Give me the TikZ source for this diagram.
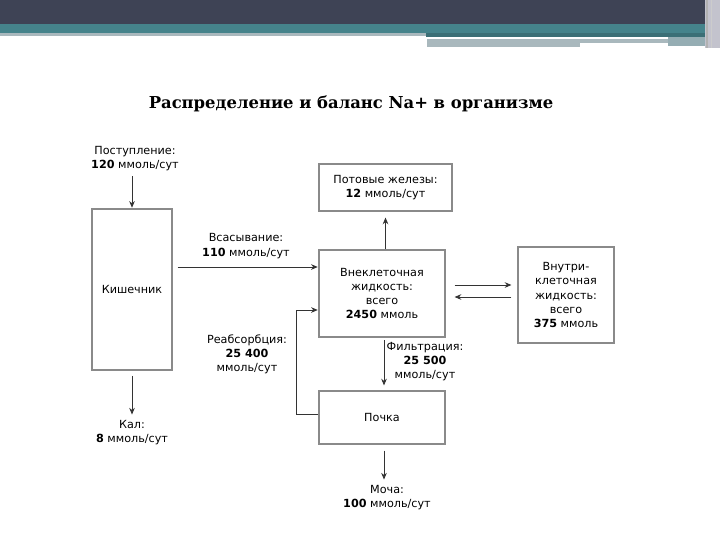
\documentclass[tikz,border=0pt]{standalone}
\usepackage{fontspec}
\setmainfont{DejaVu Sans}
\newfontfamily\titlefont{DejaVu Serif}
\usetikzlibrary{arrows.meta}
\definecolor{hdrdark}{HTML}{3E4355}
\definecolor{hdrteal}{HTML}{45838B}
\definecolor{hdrgray}{HTML}{A9B8BD}
\definecolor{hdrlight}{HTML}{C3C3CD}
\definecolor{boxline}{HTML}{8A8A8A}
\begin{document}
\begin{tikzpicture}[x=0.75pt,y=-0.75pt,
  box/.style={draw=boxline,line width=0.9pt,inner sep=0pt,align=center,font=\fontsize{8.4}{10.7}\selectfont},
  lbl/.style={align=center,inner sep=0pt,font=\fontsize{8.4}{10.7}\selectfont},
  arr/.style={draw=black!80,line width=0.6pt,-{Stealth[length=5pt,width=4.2pt]}},
  ln/.style={draw=black!65,line width=0.6pt}]
\useasboundingbox (0,0) rectangle (720,540);
\fill[white] (0,0) rectangle (720,540);
% header
\fill[hdrdark] (0,0) rectangle (705,24);
\fill[hdrteal] (0,24) rectangle (705,33);
\fill[hdrgray] (0,33) rectangle (426,36);
\fill[hdrteal!85!black] (426,33) rectangle (705,37);
\fill[hdrgray] (427,39) rectangle (668,43);
\fill[hdrgray] (427,43) rectangle (580,47);
\fill[hdrgray!80!hdrteal] (668,37) rectangle (705,46);
\fill[hdrlight] (705,0) rectangle (720,48);
\fill[gray!60] (706,0) rectangle (708,48);
\fill[gray!40] (711,0) rectangle (712,48);
% title
\node[font=\titlefont\bfseries\fontsize{12.3}{15}\selectfont] (title) at (351,104) {Распределение и баланс Na+ в организме};
% boxes
\node[box,minimum width=60pt,minimum height=120.75pt] (kish) at (132,289.5) {Кишечник};
\node[box,minimum width=99.75pt,minimum height=35.25pt] (pot) at (385.5,187.5) {Потовые железы:\\\textbf{12} ммоль/сут};
\node[box,minimum width=94.5pt,minimum height=65.25pt] (vnekl) at (382,293.5) {Внеклеточная\\жидкость:\\всего\\\textbf{2450} ммоль};
\node[box,minimum width=72pt,minimum height=72pt] (vnutr) at (566,295) {Внутри-\\клеточная\\жидкость:\\всего\\\textbf{375} ммоль};
\node[box,minimum width=94.5pt,minimum height=39.75pt] (pochka) at (382,417.5) {Почка};
% labels
\node[lbl] (post) at (135,158.5) {Поступление:\\\textbf{120} ммоль/сут};
\node[lbl] (vsas) at (246,246) {Всасывание:\\\textbf{110} ммоль/сут};
\node[lbl] (kal) at (132,432.5) {Кал:\\\textbf{8} ммоль/сут};
\node[lbl] (reab) at (247,354.5) {Реабсорбция:\\\textbf{25 400}\\ммоль/сут};
\node[lbl] (filt) at (425,361.5) {Фильтрация:\\\textbf{25 500}\\ммоль/сут};
\node[lbl] (mocha) at (387,497.5) {Моча:\\\textbf{100} ммоль/сут};
% helper coordinates
\coordinate (ya) at (0,267);
\coordinate (yb) at (0,285);
\coordinate (yc) at (0,297);
\coordinate (yr) at (0,310);
\coordinate (yk) at (0,414);
\coordinate (xr) at (296,0);
\coordinate (xf) at (384,0);
% connectors
\draw[arr,shorten <=4pt,shorten >=0.5pt] (post.south -| kish.north) -- (kish.north);
\draw[arr,shorten <=3.75pt,shorten >=0.5pt] (kish.east |- ya) -- (vnekl.west |- ya);
\draw[arr,shorten >=4.5pt] (vnekl.north -| pot.south) -- (pot.south);
\draw[arr,shorten <=6.75pt,shorten >=4.5pt] (vnekl.east |- yb) -- (vnutr.west |- yb);
\draw[arr,shorten <=4.5pt,shorten >=6.75pt] (vnutr.west |- yc) -- (vnekl.east |- yc);
\draw[arr,shorten <=4pt,shorten >=4pt] (kish.south) -- (kal.north);
\draw[arr,shorten <=2pt,shorten >=3.75pt] (vnekl.south -| xf) -- (pochka.north -| xf);
\draw[arr,shorten >=0.5pt] (pochka.west |- yk) -- (xr |- yk) -- (xr |- yr) -- (vnekl.west |- yr);
\draw[arr,shorten <=4.5pt,shorten >=4pt] (pochka.south -| xf) -- (mocha.north -| xf);
\end{tikzpicture}
\end{document}
